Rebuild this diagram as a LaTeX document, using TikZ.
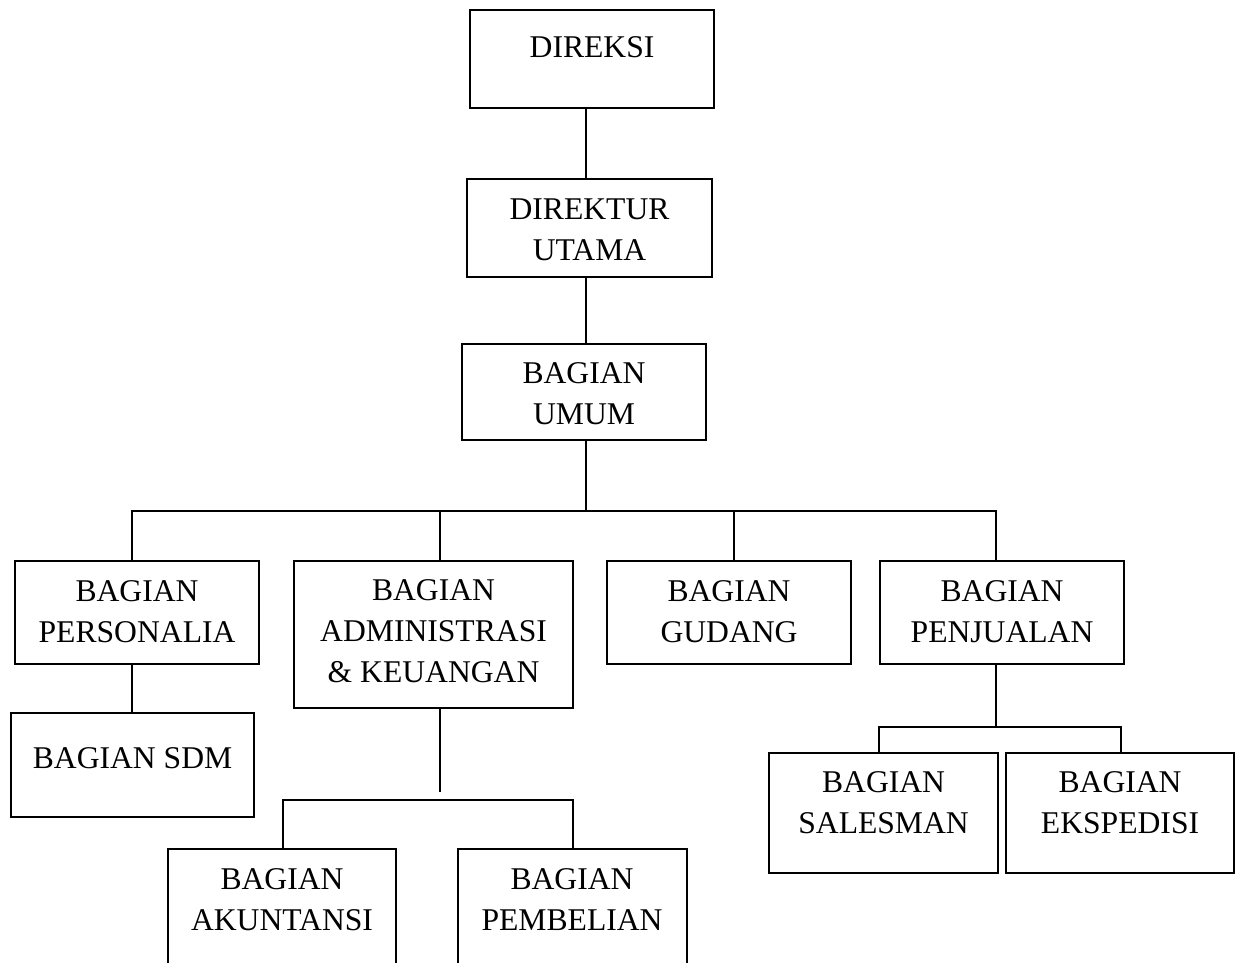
\documentclass[tikz,border=0pt]{standalone}
\usepackage{fontspec}
\setmainfont{Liberation Serif}
\usepackage{tikz}
\usetikzlibrary{positioning, calc}

\begin{document}
\begin{tikzpicture}[
    every node/.style={font=\fontsize{18pt}{23.3pt}\selectfont},
    orgbox/.style={rectangle, draw, line width=1.2pt, anchor=north west, align=center, inner sep=0pt, minimum width=4.88cm, text height=1.62cm, text depth=0.44cm},
    link/.style={line width=1.1pt}
]
\useasboundingbox (0,0) rectangle (24.8,-19.24);
\clip (0,0) rectangle (24.8,-19.24);

% pimpinan
\node[orgbox, text height=0.94cm, text depth=1.02cm] (direksi) at (9.38,-0.18) {DIREKSI};
\node[orgbox, minimum width=4.9cm, text depth=0.34cm] (dirut) at (9.32,-3.56) {DIREKTUR\\UTAMA};
\node[orgbox, text height=1.6cm, text depth=0.32cm] (umum) at (9.22,-6.86) {BAGIAN\\UMUM};

% bagian
\node[orgbox] (personalia) at (0.28,-11.2) {BAGIAN\\PERSONALIA};
\node[orgbox, minimum width=5.58cm, text height=2.42cm, text depth=0.52cm] (admin) at (5.86,-11.2) {BAGIAN\\ADMINISTRASI\\\& KEUANGAN};
\node[orgbox] (gudang) at (12.12,-11.2) {BAGIAN\\GUDANG};
\node[orgbox] (penjualan) at (17.58,-11.2) {BAGIAN\\PENJUALAN};

% sub bagian
\node[orgbox, minimum width=4.86cm, text height=1.1cm, text depth=0.98cm] (sdm) at (0.2,-14.24) {BAGIAN SDM};
\node[orgbox, minimum width=4.56cm, text depth=1.08cm] (akuntansi) at (3.34,-16.96) {BAGIAN\\AKUNTANSI};
\node[orgbox, minimum width=4.58cm, text depth=1.08cm] (pembelian) at (9.13,-16.96) {BAGIAN\\PEMBELIAN};
\node[orgbox, minimum width=4.58cm, text height=1.6cm, text depth=0.8cm] (salesman) at (15.36,-15.04) {BAGIAN\\SALESMAN};
\node[orgbox, minimum width=4.56cm, text height=1.6cm, text depth=0.8cm] (ekspedisi) at (20.1,-15.04) {BAGIAN\\EKSPEDISI};

\coordinate (spine) at (11.72,0);
\coordinate (busL) at (2.64,-10.22);
\coordinate (busR) at (19.92,-10.22);
\coordinate (adminstub) at (8.8,-15.84);
\coordinate (adminL) at (5.66,-16);
\coordinate (adminR) at (11.46,-16);
\coordinate (juaL) at (17.58,-14.54);
\coordinate (juaR) at (22.42,-14.54);

\draw[link] (direksi.south -| spine) -- (dirut.north -| spine);
\draw[link] (dirut.south -| spine) -- (umum.north -| spine);
\draw[link] (umum.south -| spine) -- (spine |- busL);
\draw[link] (personalia.north -| busL) -- (busL) -- (busR) -- (penjualan.north -| busR);
\foreach \x/\n in {8.8/admin, 14.68/gudang}
    \draw[link] (\x,-10.22) -- (\x,0 |- \n.north);
\draw[link] (personalia.south -| busL) -- (sdm.north -| busL);
\draw[link] (admin.south -| adminstub) -- (adminstub);
\draw[link] (akuntansi.north -| adminL) -- (adminL) -- (adminR) -- (pembelian.north -| adminR);
\draw[link] (penjualan.south -| busR) -- (busR |- juaL);
\draw[link] (salesman.north -| juaL) -- (juaL) -- (juaR) -- (ekspedisi.north -| juaR);

\end{tikzpicture}
\end{document}
